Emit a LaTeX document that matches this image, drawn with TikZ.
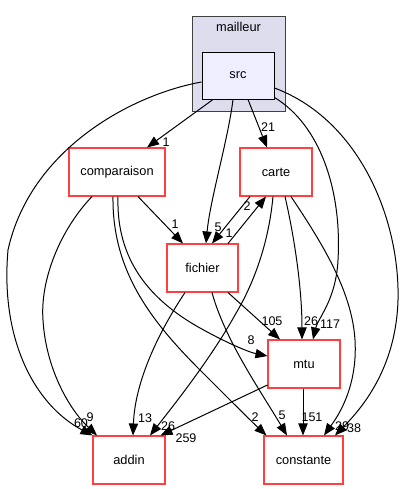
\documentclass[tikz,border=0pt]{standalone}
\usepackage{fontspec}
\setmainfont{Liberation Sans}
\usetikzlibrary{arrows.meta,calc}
\definecolor{clfill}{HTML}{DDDDEE}
\definecolor{srcfill}{HTML}{EEEEFF}
\definecolor{clborder}{HTML}{404040}
\definecolor{dirred}{HTML}{FF4040}
\tikzset{
  dirbox/.style={draw=dirred,line width=0.8pt,fill=white,minimum height=36pt,inner sep=0pt,font=\fontsize{9.6}{11}\selectfont},
  edge/.style={draw=black,line width=0.75pt,-{Triangle[length=9pt,width=7pt]}},
  lab/.style={inner sep=0pt,font=\fontsize{9.4}{11}\selectfont}
}
\begin{document}
\begin{tikzpicture}[x=0.75pt,y=-0.75pt]
\useasboundingbox (0,0) rectangle (404,489);
% cluster
\node[draw=clborder,line width=0.75pt,fill=clfill,minimum width=69.75pt,minimum height=71.25pt,inner sep=0pt] (mailleur) at (238.5,63.5) {};
\node[font=\fontsize{9.6}{11}\selectfont,inner sep=0pt] (mlab) at (238.5,27) {mailleur};
\node[draw=black,line width=0.75pt,fill=srcfill,minimum width=54pt,minimum height=35.25pt,inner sep=0pt,font=\fontsize{9.6}{11}\selectfont] (src) at (238,75.5) {src};
% nodes
\node[dirbox,minimum width=72pt] (comparaison) at (117,172) {comparaison};
\node[dirbox,minimum width=54pt] (carte) at (276,172) {carte};
\node[dirbox,minimum width=53.25pt] (fichier) at (202.5,268) {fichier};
\node[dirbox,minimum width=54pt] (mtu) at (304,364) {mtu};
\node[dirbox,minimum width=54pt] (addin) at (129,460) {addin};
\node[dirbox,minimum width=59.25pt] (constante) at (303.5,460) {constante};
% edges from src
\draw[edge] ($(src.south)+(-25,0)$) -- ($(comparaison.north)+(30,0)$);
\draw[edge] ($(src.west)+(0,6.5)$) .. controls (130,95) and (30,150) .. (8,250) .. controls (0,340) and (35,405) .. (addin.north west);
\draw[edge] ($(src.south)+(-5,0)$) .. controls (228,140) and (210,200) .. ($(fichier.north)+(3.5,0)$);
\draw[edge] ($(src.south)+(10,0)$) -- ($(carte.north)+(-9,0)$);
\draw[edge] ($(src.south east)+(0,-2)$) .. controls (320,125) and (342,190) .. (338,260) .. controls (336,300) and (318,318) .. ($(mtu.north)+(9,0)$);
\draw[edge] ($(src.east)+(0,12.5)$) .. controls (360,120) and (400,220) .. (398,300) .. controls (396,370) and (360,410) .. ($(constante.north)+(31.5,0)$);
% edges from comparaison
\draw[edge] ($(comparaison.south)+(21,0)$) -- ($(fichier.north)+(-19.5,0)$);
\draw[edge] ($(comparaison.south)+(-25,0)$) .. controls (60,230) and (40,280) .. (43,320) .. controls (46,370) and (70,410) .. ($(addin.north)+(-32,0)$);
\draw[edge] ($(comparaison.south)+(1,0)$) .. controls (116,260) and (150,300) .. (200,328) .. controls (225,342) and (248,352) .. ($(mtu.west)+(0,-8)$);
\draw[edge] ($(comparaison.south)+(-4,0)$) .. controls (112,270) and (150,320) .. (200,370) .. controls (230,400) and (250,420) .. ($(constante.north west)+(3,0)$);
% carte / fichier
\draw[edge] ($(carte.south)+(-26,0)$) -- ($(fichier.north)+(9.5,0)$);
\draw[edge] ($(fichier.north)+(25.5,0)$) -- ($(carte.south)+(-10,0)$);
\draw[edge] ($(carte.south)+(9,0)$) .. controls (295,240) and (302,290) .. ($(mtu.north)+(-2,0)$);
\draw[edge] ($(carte.south)+(-3,0)$) .. controls (268,250) and (250,290) .. (235,315) .. controls (210,360) and (170,410) .. ($(addin.north)+(21,0)$);
\draw[edge] ($(carte.south)+(15,0)$) .. controls (320,240) and (352,290) .. (355,340) .. controls (358,390) and (335,420) .. ($(constante.north)+(20.5,0)$);
% from fichier
\draw[edge] ($(fichier.south)+(25.5,0)$) -- ($(mtu.north)+(-24,0)$);
\draw[edge] ($(fichier.south)+(-17.5,0)$) .. controls (160,330) and (135,380) .. ($(addin.north)+(4,0)$);
\draw[edge] ($(fichier.south)+(9.5,0)$) .. controls (225,340) and (260,390) .. ($(constante.north)+(-16.5,0)$);
% from mtu
\draw[edge] ($(mtu.south)+(-1,0)$) -- ($(constante.north)+(-0.5,0)$);
\draw[edge] ($(mtu.west)+(0,21)$) -- ($(addin.north east)+(-5,0)$);
% labels
\node[lab] (l1) at (166,142) {1};
\node[lab] (l2) at (81,423) {60};
\node[lab] (l3) at (218,227) {5};
\node[lab] (l4) at (268,127) {21};
\node[lab] (l5) at (330,324) {117};
\node[lab] (l6) at (354,428) {38};
\node[lab] (l7) at (175,224) {1};
\node[lab] (l8) at (90,417) {9};
\node[lab] (l9) at (251,340) {8};
\node[lab] (l10) at (255,417) {2};
\node[lab] (l11) at (229,233) {1};
\node[lab] (l12) at (247,206) {2};
\node[lab] (l13) at (311,321) {26};
\node[lab] (l14) at (168,426) {26};
\node[lab] (l15) at (342,426) {29};
\node[lab] (l16) at (272,321) {105};
\node[lab] (l17) at (145,418) {13};
\node[lab] (l18) at (282,415) {5};
\node[lab] (l19) at (312,417) {151};
\node[lab] (l20) at (186,438) {259};
\end{tikzpicture}
\end{document}
